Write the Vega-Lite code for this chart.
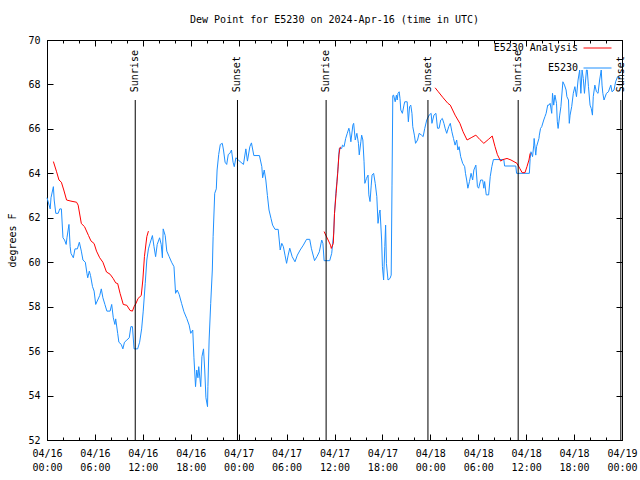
{
  "$schema": "https://vega.github.io/schema/vega-lite/v6.json",
  "width": 575,
  "height": 400,
  "autosize": "none",
  "padding": {"left": 47, "top": 40, "right": 18, "bottom": 40},
  "background": "white",
  "title": {"text": "Dew Point for E5230 on 2024-Apr-16 (time in UTC)", "font": "DejaVu Sans Mono", "fontSize": 10, "fontWeight": "normal", "anchor": "middle", "offset": 9, "color": "black"},
  "config": {
    "view": {"stroke": "black", "strokeWidth": 1},
    "font": "DejaVu Sans Mono",
    "axis": {"domainColor": "black", "tickColor": "black", "labelColor": "black", "titleColor": "black", "labelFont": "DejaVu Sans Mono", "labelFontSize": 10, "titleFont": "DejaVu Sans Mono", "titleFontSize": 10, "titleFontWeight": "normal", "grid": false}
  },
  "datasets": {
    "obs": [
      {"series":"E5230","h":0.0,"v":62.9},{"series":"E5230","h":0.4,"v":62.4},{"series":"E5230","h":0.5,"v":62.9},{"series":"E5230","h":0.8,"v":63.4},{"series":"E5230","h":0.9,"v":62.8},{"series":"E5230","h":1.1,"v":62.2},{"series":"E5230","h":1.4,"v":62.2},{"series":"E5230","h":1.6,"v":62.4},{"series":"E5230","h":1.8,"v":62.4},{"series":"E5230","h":2.0,"v":61.1},{"series":"E5230","h":2.2,"v":61.0},{"series":"E5230","h":2.4,"v":60.8},{"series":"E5230","h":2.5,"v":61.1},{"series":"E5230","h":2.75,"v":61.7},{"series":"E5230","h":2.9,"v":60.7},{"series":"E5230","h":3.0,"v":60.4},{"series":"E5230","h":3.3,"v":60.2},{"series":"E5230","h":3.5,"v":60.6},{"series":"E5230","h":3.8,"v":60.6},{"series":"E5230","h":4.05,"v":60.9},{"series":"E5230","h":4.3,"v":60.5},{"series":"E5230","h":4.5,"v":60.1},{"series":"E5230","h":4.8,"v":60.0},{"series":"E5230","h":5.0,"v":59.5},{"series":"E5230","h":5.1,"v":59.3},{"series":"E5230","h":5.3,"v":59.6},{"series":"E5230","h":5.45,"v":59.4},{"series":"E5230","h":5.7,"v":58.9},{"series":"E5230","h":5.9,"v":58.7},{"series":"E5230","h":6.1,"v":58.1},{"series":"E5230","h":6.35,"v":58.3},{"series":"E5230","h":6.6,"v":58.5},{"series":"E5230","h":6.8,"v":58.8},{"series":"E5230","h":7.0,"v":58.4},{"series":"E5230","h":7.25,"v":58.1},{"series":"E5230","h":7.5,"v":57.8},{"series":"E5230","h":7.9,"v":57.8},{"series":"E5230","h":8.1,"v":58.1},{"series":"E5230","h":8.3,"v":57.5},{"series":"E5230","h":8.5,"v":57.2},{"series":"E5230","h":8.6,"v":57.45},{"series":"E5230","h":8.85,"v":56.8},{"series":"E5230","h":9.0,"v":56.4},{"series":"E5230","h":9.3,"v":56.3},{"series":"E5230","h":9.5,"v":56.1},{"series":"E5230","h":9.7,"v":56.4},{"series":"E5230","h":10.0,"v":56.5},{"series":"E5230","h":10.3,"v":56.6},{"series":"E5230","h":10.5,"v":57.1},{"series":"E5230","h":10.7,"v":57.1},{"series":"E5230","h":10.9,"v":56.1},{"series":"E5230","h":11.35,"v":56.1},{"series":"E5230","h":11.6,"v":56.4},{"series":"E5230","h":11.85,"v":57.0},{"series":"E5230","h":12.05,"v":57.8},{"series":"E5230","h":12.3,"v":59.05},{"series":"E5230","h":12.5,"v":60.1},{"series":"E5230","h":12.7,"v":60.6},{"series":"E5230","h":12.9,"v":60.85},{"series":"E5230","h":13.2,"v":61.2},{"series":"E5230","h":13.4,"v":60.7},{"series":"E5230","h":13.6,"v":60.25},{"series":"E5230","h":13.8,"v":60.8},{"series":"E5230","h":14.1,"v":61.1},{"series":"E5230","h":14.3,"v":60.8},{"series":"E5230","h":14.45,"v":60.2},{"series":"E5230","h":14.55,"v":61.5},{"series":"E5230","h":14.8,"v":61.2},{"series":"E5230","h":15.0,"v":60.5},{"series":"E5230","h":15.3,"v":60.25},{"series":"E5230","h":15.6,"v":60.0},{"series":"E5230","h":15.9,"v":59.8},{"series":"E5230","h":16.1,"v":58.6},{"series":"E5230","h":16.3,"v":58.75},{"series":"E5230","h":16.55,"v":58.55},{"series":"E5230","h":16.85,"v":58.15},{"series":"E5230","h":17.15,"v":57.77},{"series":"E5230","h":17.5,"v":57.47},{"series":"E5230","h":17.8,"v":57.17},{"series":"E5230","h":18.0,"v":56.8},{"series":"E5230","h":18.25,"v":56.95},{"series":"E5230","h":18.4,"v":55.7},{"series":"E5230","h":18.6,"v":54.4},{"series":"E5230","h":18.75,"v":55.15},{"series":"E5230","h":18.9,"v":54.8},{"series":"E5230","h":19.0,"v":55.3},{"series":"E5230","h":19.25,"v":54.4},{"series":"E5230","h":19.4,"v":55.75},{"series":"E5230","h":19.6,"v":56.1},{"series":"E5230","h":19.75,"v":55.15},{"series":"E5230","h":19.9,"v":53.9},{"series":"E5230","h":20.1,"v":53.5},{"series":"E5230","h":20.15,"v":54.4},{"series":"E5230","h":20.3,"v":56.5},{"series":"E5230","h":20.5,"v":58.15},{"series":"E5230","h":20.7,"v":59.65},{"series":"E5230","h":20.8,"v":61.15},{"series":"E5230","h":21.0,"v":63.1},{"series":"E5230","h":21.2,"v":63.3},{"series":"E5230","h":21.3,"v":64.15},{"series":"E5230","h":21.5,"v":64.85},{"series":"E5230","h":21.7,"v":65.3},{"series":"E5230","h":21.95,"v":65.35},{"series":"E5230","h":22.1,"v":65.05},{"series":"E5230","h":22.3,"v":64.5},{"series":"E5230","h":22.5,"v":64.4},{"series":"E5230","h":22.7,"v":64.85},{"series":"E5230","h":22.9,"v":64.9},{"series":"E5230","h":23.1,"v":65.05},{"series":"E5230","h":23.3,"v":64.5},{"series":"E5230","h":23.45,"v":64.3},{"series":"E5230","h":23.65,"v":64.7},{"series":"E5230","h":23.95,"v":64.6},{"series":"E5230","h":24.6,"v":64.4},{"series":"E5230","h":24.9,"v":65.1},{"series":"E5230","h":25.1,"v":64.55},{"series":"E5230","h":25.4,"v":65.2},{"series":"E5230","h":25.6,"v":65.37},{"series":"E5230","h":25.9,"v":64.8},{"series":"E5230","h":26.6,"v":64.8},{"series":"E5230","h":26.9,"v":64.3},{"series":"E5230","h":27.0,"v":63.8},{"series":"E5230","h":27.2,"v":64.15},{"series":"E5230","h":27.4,"v":63.7},{"series":"E5230","h":27.6,"v":63.0},{"series":"E5230","h":27.8,"v":62.35},{"series":"E5230","h":28.05,"v":61.97},{"series":"E5230","h":28.25,"v":61.67},{"series":"E5230","h":28.55,"v":61.48},{"series":"E5230","h":28.95,"v":61.48},{"series":"E5230","h":29.2,"v":60.55},{"series":"E5230","h":29.4,"v":60.85},{"series":"E5230","h":29.6,"v":60.7},{"series":"E5230","h":29.8,"v":60.32},{"series":"E5230","h":30.0,"v":59.95},{"series":"E5230","h":30.2,"v":60.32},{"series":"E5230","h":30.4,"v":60.63},{"series":"E5230","h":30.7,"v":60.25},{"series":"E5230","h":31.05,"v":60.02},{"series":"E5230","h":31.35,"v":60.32},{"series":"E5230","h":31.7,"v":60.55},{"series":"E5230","h":32.1,"v":60.77},{"series":"E5230","h":32.5,"v":61.03},{"series":"E5230","h":32.9,"v":61.03},{"series":"E5230","h":33.1,"v":60.63},{"series":"E5230","h":33.5,"v":60.07},{"series":"E5230","h":33.8,"v":60.25},{"series":"E5230","h":34.1,"v":60.47},{"series":"E5230","h":34.4,"v":61.0},{"series":"E5230","h":34.55,"v":60.85},{"series":"E5230","h":34.7,"v":60.07},{"series":"E5230","h":35.4,"v":60.07},{"series":"E5230","h":35.65,"v":60.4},{"series":"E5230","h":35.9,"v":61.3},{"series":"E5230","h":36.0,"v":62.2},{"series":"E5230","h":36.2,"v":63.25},{"series":"E5230","h":36.3,"v":63.62},{"series":"E5230","h":36.45,"v":64.3},{"series":"E5230","h":36.6,"v":65.12},{"series":"E5230","h":36.9,"v":65.12},{"series":"E5230","h":37.0,"v":65.27},{"series":"E5230","h":37.2,"v":65.2},{"series":"E5230","h":37.4,"v":65.57},{"series":"E5230","h":37.6,"v":65.8},{"series":"E5230","h":37.8,"v":66.03},{"series":"E5230","h":37.9,"v":65.87},{"series":"E5230","h":38.05,"v":65.42},{"series":"E5230","h":38.3,"v":66.17},{"series":"E5230","h":38.4,"v":66.25},{"series":"E5230","h":38.6,"v":65.5},{"series":"E5230","h":38.8,"v":65.8},{"series":"E5230","h":39.0,"v":65.35},{"series":"E5230","h":39.1,"v":64.83},{"series":"E5230","h":39.3,"v":65.42},{"series":"E5230","h":39.4,"v":65.72},{"series":"E5230","h":39.55,"v":65.5},{"series":"E5230","h":39.7,"v":64.52},{"series":"E5230","h":39.8,"v":63.55},{"series":"E5230","h":40.0,"v":63.77},{"series":"E5230","h":40.2,"v":63.92},{"series":"E5230","h":40.3,"v":63.03},{"series":"E5230","h":40.45,"v":62.73},{"series":"E5230","h":40.6,"v":63.47},{"series":"E5230","h":40.7,"v":63.92},{"series":"E5230","h":40.9,"v":64.0},{"series":"E5230","h":41.1,"v":63.55},{"series":"E5230","h":41.3,"v":62.95},{"series":"E5230","h":41.45,"v":61.75},{"series":"E5230","h":41.6,"v":62.2},{"series":"E5230","h":41.7,"v":62.35},{"series":"E5230","h":41.9,"v":61.0},{"series":"E5230","h":42.0,"v":59.8},{"series":"E5230","h":42.15,"v":59.2},{"series":"E5230","h":42.3,"v":60.7},{"series":"E5230","h":42.4,"v":61.67},{"series":"E5230","h":42.5,"v":59.95},{"series":"E5230","h":42.7,"v":59.2},{"series":"E5230","h":42.95,"v":59.27},{"series":"E5230","h":43.1,"v":59.42},{"series":"E5230","h":43.2,"v":63.47},{"series":"E5230","h":43.3,"v":67.5},{"series":"E5230","h":43.4,"v":67.52},{"series":"E5230","h":43.6,"v":67.22},{"series":"E5230","h":43.75,"v":67.52},{"series":"E5230","h":43.85,"v":67.3},{"series":"E5230","h":43.95,"v":67.6},{"series":"E5230","h":44.1,"v":67.67},{"series":"E5230","h":44.2,"v":67.37},{"series":"E5230","h":44.3,"v":66.85},{"series":"E5230","h":44.5,"v":66.7},{"series":"E5230","h":44.7,"v":67.07},{"series":"E5230","h":44.8,"v":67.22},{"series":"E5230","h":45.1,"v":67.22},{"series":"E5230","h":45.25,"v":66.32},{"series":"E5230","h":45.4,"v":67.0},{"series":"E5230","h":45.55,"v":67.07},{"series":"E5230","h":45.7,"v":66.7},{"series":"E5230","h":45.8,"v":66.1},{"series":"E5230","h":46.0,"v":65.72},{"series":"E5230","h":46.15,"v":65.35},{"series":"E5230","h":46.4,"v":65.5},{"series":"E5230","h":46.6,"v":65.8},{"series":"E5230","h":46.9,"v":65.72},{"series":"E5230","h":47.1,"v":65.65},{"series":"E5230","h":47.3,"v":66.02},{"series":"E5230","h":47.55,"v":66.4},{"series":"E5230","h":47.85,"v":66.62},{"series":"E5230","h":48.1,"v":66.7},{"series":"E5230","h":48.2,"v":66.25},{"series":"E5230","h":48.45,"v":66.62},{"series":"E5230","h":48.7,"v":66.7},{"series":"E5230","h":48.9,"v":66.03},{"series":"E5230","h":49.1,"v":66.03},{"series":"E5230","h":49.3,"v":66.4},{"series":"E5230","h":49.5,"v":66.47},{"series":"E5230","h":49.7,"v":66.25},{"series":"E5230","h":49.85,"v":66.03},{"series":"E5230","h":50.05,"v":65.8},{"series":"E5230","h":50.3,"v":66.1},{"series":"E5230","h":50.5,"v":66.25},{"series":"E5230","h":50.7,"v":65.87},{"series":"E5230","h":50.9,"v":65.57},{"series":"E5230","h":51.1,"v":65.27},{"series":"E5230","h":51.3,"v":65.5},{"series":"E5230","h":51.45,"v":65.05},{"series":"E5230","h":51.6,"v":65.2},{"series":"E5230","h":51.8,"v":64.75},{"series":"E5230","h":52.05,"v":64.45},{"series":"E5230","h":52.3,"v":64.3},{"series":"E5230","h":52.4,"v":64.0},{"series":"E5230","h":52.55,"v":63.7},{"series":"E5230","h":52.7,"v":63.33},{"series":"E5230","h":52.9,"v":63.63},{"series":"E5230","h":53.1,"v":64.0},{"series":"E5230","h":53.3,"v":63.7},{"series":"E5230","h":53.45,"v":64.15},{"series":"E5230","h":53.7,"v":64.37},{"series":"E5230","h":53.9,"v":63.4},{"series":"E5230","h":54.05,"v":63.33},{"series":"E5230","h":54.3,"v":63.7},{"series":"E5230","h":54.55,"v":63.7},{"series":"E5230","h":54.7,"v":63.33},{"series":"E5230","h":54.8,"v":63.63},{"series":"E5230","h":55.0,"v":63.03},{"series":"E5230","h":55.3,"v":63.03},{"series":"E5230","h":55.5,"v":63.85},{"series":"E5230","h":55.7,"v":64.3},{"series":"E5230","h":55.9,"v":64.62},{"series":"E5230","h":57.2,"v":64.62},{"series":"E5230","h":57.3,"v":64.33},{"series":"E5230","h":58.7,"v":64.33},{"series":"E5230","h":58.8,"v":64.0},{"series":"E5230","h":60.4,"v":64.0},{"series":"E5230","h":60.5,"v":64.67},{"series":"E5230","h":60.6,"v":64.97},{"series":"E5230","h":60.8,"v":64.75},{"series":"E5230","h":60.95,"v":65.27},{"series":"E5230","h":61.0,"v":65.57},{"series":"E5230","h":61.2,"v":64.82},{"series":"E5230","h":61.3,"v":65.2},{"series":"E5230","h":61.6,"v":65.57},{"series":"E5230","h":61.65,"v":65.72},{"series":"E5230","h":61.8,"v":66.02},{"series":"E5230","h":61.95,"v":66.1},{"series":"E5230","h":62.2,"v":66.4},{"series":"E5230","h":62.35,"v":66.55},{"series":"E5230","h":62.5,"v":66.7},{"series":"E5230","h":62.7,"v":67.07},{"series":"E5230","h":62.85,"v":67.07},{"series":"E5230","h":63.0,"v":67.15},{"series":"E5230","h":63.2,"v":66.7},{"series":"E5230","h":63.3,"v":67.6},{"series":"E5230","h":63.45,"v":67.07},{"series":"E5230","h":63.6,"v":67.52},{"series":"E5230","h":63.8,"v":67.15},{"series":"E5230","h":63.9,"v":66.32},{"series":"E5230","h":64.0,"v":66.02},{"series":"E5230","h":64.2,"v":66.62},{"series":"E5230","h":64.35,"v":67.0},{"series":"E5230","h":64.6,"v":68.12},{"series":"E5230","h":64.8,"v":67.97},{"series":"E5230","h":65.0,"v":67.75},{"series":"E5230","h":65.1,"v":67.45},{"series":"E5230","h":65.3,"v":67.3},{"series":"E5230","h":65.4,"v":66.25},{"series":"E5230","h":65.5,"v":66.62},{"series":"E5230","h":65.7,"v":67.0},{"series":"E5230","h":65.9,"v":67.6},{"series":"E5230","h":66.1,"v":67.9},{"series":"E5230","h":66.3,"v":67.45},{"series":"E5230","h":66.5,"v":68.2},{"series":"E5230","h":66.7,"v":68.65},{"series":"E5230","h":66.85,"v":67.6},{"series":"E5230","h":67.0,"v":68.65},{"series":"E5230","h":67.15,"v":68.27},{"series":"E5230","h":67.3,"v":67.6},{"series":"E5230","h":67.55,"v":68.65},{"series":"E5230","h":67.65,"v":68.65},{"series":"E5230","h":67.8,"v":67.9},{"series":"E5230","h":68.0,"v":67.07},{"series":"E5230","h":68.15,"v":66.92},{"series":"E5230","h":68.3,"v":66.62},{"series":"E5230","h":68.4,"v":67.45},{"series":"E5230","h":68.6,"v":67.97},{"series":"E5230","h":68.8,"v":67.67},{"series":"E5230","h":69.0,"v":67.6},{"series":"E5230","h":69.2,"v":68.2},{"series":"E5230","h":69.4,"v":68.65},{"series":"E5230","h":69.5,"v":67.97},{"series":"E5230","h":69.6,"v":67.6},{"series":"E5230","h":69.75,"v":67.3},{"series":"E5230","h":70.05,"v":67.6},{"series":"E5230","h":70.3,"v":67.67},{"series":"E5230","h":70.6,"v":67.97},{"series":"E5230","h":70.75,"v":67.67},{"series":"E5230","h":71.0,"v":67.75},{"series":"E5230","h":71.2,"v":68.12},{"series":"E5230","h":71.45,"v":68.35},{"series":"E5230","h":71.8,"v":68.3},
      {"series":"E5230 Analysis","seg":1,"h":0.8,"v":64.53},{"series":"E5230 Analysis","seg":1,"h":1.2,"v":64.07},{"series":"E5230 Analysis","seg":1,"h":1.5,"v":63.7},{"series":"E5230 Analysis","seg":1,"h":1.8,"v":63.6},{"series":"E5230 Analysis","seg":1,"h":2.1,"v":63.25},{"series":"E5230 Analysis","seg":1,"h":2.45,"v":62.8},{"series":"E5230 Analysis","seg":1,"h":3.0,"v":62.75},{"series":"E5230 Analysis","seg":1,"h":3.7,"v":62.7},{"series":"E5230 Analysis","seg":1,"h":3.9,"v":62.57},{"series":"E5230 Analysis","seg":1,"h":4.3,"v":61.74},{"series":"E5230 Analysis","seg":1,"h":4.7,"v":61.6},{"series":"E5230 Analysis","seg":1,"h":5.2,"v":61.2},{"series":"E5230 Analysis","seg":1,"h":5.5,"v":60.96},{"series":"E5230 Analysis","seg":1,"h":5.9,"v":60.84},{"series":"E5230 Analysis","seg":1,"h":6.2,"v":60.5},{"series":"E5230 Analysis","seg":1,"h":6.6,"v":60.2},{"series":"E5230 Analysis","seg":1,"h":7.0,"v":60.0},{"series":"E5230 Analysis","seg":1,"h":7.45,"v":59.56},{"series":"E5230 Analysis","seg":1,"h":7.9,"v":59.46},{"series":"E5230 Analysis","seg":1,"h":8.3,"v":59.26},{"series":"E5230 Analysis","seg":1,"h":8.6,"v":59.07},{"series":"E5230 Analysis","seg":1,"h":8.85,"v":59.04},{"series":"E5230 Analysis","seg":1,"h":9.15,"v":58.6},{"series":"E5230 Analysis","seg":1,"h":9.55,"v":58.1},{"series":"E5230 Analysis","seg":1,"h":10.0,"v":58.06},{"series":"E5230 Analysis","seg":1,"h":10.4,"v":57.83},{"series":"E5230 Analysis","seg":1,"h":10.7,"v":57.8},{"series":"E5230 Analysis","seg":1,"h":10.9,"v":58.0},{"series":"E5230 Analysis","seg":1,"h":11.15,"v":58.15},{"series":"E5230 Analysis","seg":1,"h":11.4,"v":58.37},{"series":"E5230 Analysis","seg":1,"h":11.8,"v":58.5},{"series":"E5230 Analysis","seg":1,"h":12.0,"v":59.2},{"series":"E5230 Analysis","seg":1,"h":12.2,"v":60.25},{"series":"E5230 Analysis","seg":1,"h":12.5,"v":61.15},{"series":"E5230 Analysis","seg":1,"h":12.7,"v":61.4},
      {"series":"E5230 Analysis","seg":2,"h":34.7,"v":61.38},{"series":"E5230 Analysis","seg":2,"h":34.9,"v":61.22},{"series":"E5230 Analysis","seg":2,"h":35.2,"v":61.0},{"series":"E5230 Analysis","seg":2,"h":35.5,"v":60.77},{"series":"E5230 Analysis","seg":2,"h":35.6,"v":60.62},{"series":"E5230 Analysis","seg":2,"h":35.85,"v":60.85},{"series":"E5230 Analysis","seg":2,"h":36.0,"v":62.2},{"series":"E5230 Analysis","seg":2,"h":36.2,"v":63.1},{"series":"E5230 Analysis","seg":2,"h":36.4,"v":64.0},{"series":"E5230 Analysis","seg":2,"h":36.55,"v":64.83},{"series":"E5230 Analysis","seg":2,"h":36.7,"v":65.17},{"series":"E5230 Analysis","seg":2,"h":36.8,"v":65.17},
      {"series":"E5230 Analysis","seg":3,"h":48.6,"v":67.85},{"series":"E5230 Analysis","seg":3,"h":49.0,"v":67.67},{"series":"E5230 Analysis","seg":3,"h":49.6,"v":67.4},{"series":"E5230 Analysis","seg":3,"h":50.2,"v":67.15},{"series":"E5230 Analysis","seg":3,"h":50.5,"v":67.07},{"series":"E5230 Analysis","seg":3,"h":51.1,"v":66.62},{"series":"E5230 Analysis","seg":3,"h":51.7,"v":66.25},{"series":"E5230 Analysis","seg":3,"h":52.1,"v":65.87},{"series":"E5230 Analysis","seg":3,"h":52.6,"v":65.5},{"series":"E5230 Analysis","seg":3,"h":53.2,"v":65.62},{"series":"E5230 Analysis","seg":3,"h":53.7,"v":65.72},{"series":"E5230 Analysis","seg":3,"h":54.2,"v":65.52},{"series":"E5230 Analysis","seg":3,"h":54.7,"v":65.35},{"series":"E5230 Analysis","seg":3,"h":55.25,"v":65.52},{"series":"E5230 Analysis","seg":3,"h":55.75,"v":65.68},{"series":"E5230 Analysis","seg":3,"h":56.1,"v":65.2},{"series":"E5230 Analysis","seg":3,"h":56.4,"v":64.84},{"series":"E5230 Analysis","seg":3,"h":56.8,"v":64.55},{"series":"E5230 Analysis","seg":3,"h":57.1,"v":64.62},{"series":"E5230 Analysis","seg":3,"h":57.6,"v":64.67},{"series":"E5230 Analysis","seg":3,"h":58.1,"v":64.6},{"series":"E5230 Analysis","seg":3,"h":58.6,"v":64.5},{"series":"E5230 Analysis","seg":3,"h":58.85,"v":64.45},{"series":"E5230 Analysis","seg":3,"h":59.2,"v":64.22},{"series":"E5230 Analysis","seg":3,"h":59.5,"v":64.03},{"series":"E5230 Analysis","seg":3,"h":59.85,"v":64.03},{"series":"E5230 Analysis","seg":3,"h":60.1,"v":64.3},{"series":"E5230 Analysis","seg":3,"h":60.35,"v":64.6},{"series":"E5230 Analysis","seg":3,"h":60.5,"v":64.9}
    ],
    "sun": [
      {"event":"Sunrise","h":11.05},{"event":"Sunset","h":23.85},{"event":"Sunrise","h":34.95},{"event":"Sunset","h":47.7},{"event":"Sunrise","h":59.0},{"event":"Sunset","h":71.85}
    ]
  },
  "layer": [
    {
      "data": {"name": "obs"},
      "mark": {"type": "line", "strokeWidth": 1},
      "encoding": {
        "x": {"field": "h", "type": "quantitative", "scale": {"domain": [0, 72], "nice": false, "zero": false},
          "axis": {"orient": "bottom", "title": null, "values": [0,2,4,6,8,10,12,14,16,18,20,22,24,26,28,30,32,34,36,38,40,42,44,46,48,50,52,54,56,58,60,62,64,66,68,70,72],
            "tickSize": {"condition": {"test": "datum.value % 6 === 0", "value": -6}, "value": -3},
            "labelPadding": 14, "labelBaseline": "top", "labelLineHeight": 14, "labelAlign": "center", "labelFlush": false, "labelOverlap": false,
            "labelExpr": "datum.value % 6 === 0 ? ['04/' + (16 + floor(datum.value / 24)), (datum.value % 24 < 10 ? '0' : '') + (datum.value % 24) + ':00'] : ''"}},
        "y": {"field": "v", "type": "quantitative", "scale": {"domain": [52, 70], "nice": false, "zero": false},
          "axis": {"orient": "left", "title": "degrees F", "values": [52,54,56,58,60,62,64,66,68,70], "tickSize": -6, "labelPadding": 13, "titlePadding": 10, "labelFlush": false}},
        "color": {"field": "series", "type": "nominal", "scale": {"domain": ["E5230 Analysis", "E5230"], "range": ["#ff0000", "#1e90ff"]},
          "legend": {"title": null, "orient": "none", "legendX": 536, "legendY": -6.5, "symbolType": "stroke", "symbolStrokeWidth": 1, "symbolSize": 784, "labelFont": "DejaVu Sans Mono", "labelFontSize": 10, "labelColor": "black", "labelAlign": "right", "labelOffset": -34, "padding": 0, "rowPadding": -7}},
        "detail": {"field": "seg"}
      }
    },
    {
      "data": {"name": "sun"},
      "mark": {"type": "rule", "color": "black", "strokeWidth": 1},
      "encoding": {
        "x": {"field": "h", "type": "quantitative",
          "axis": {"orient": "top", "title": null, "labels": false, "domain": true, "values": [0,2,4,6,8,10,12,14,16,18,20,22,24,26,28,30,32,34,36,38,40,42,44,46,48,50,52,54,56,58,60,62,64,66,68,70,72],
            "tickSize": {"condition": {"test": "datum.value % 6 === 0", "value": -6}, "value": -3}}},
        "y": {"datum": 67.3, "type": "quantitative",
          "axis": {"orient": "right", "title": null, "labels": false, "values": [52,54,56,58,60,62,64,66,68,70], "tickSize": -6}},
        "y2": {"datum": 52}
      }
    },
    {
      "data": {"name": "sun"},
      "mark": {"type": "text", "angle": 270, "align": "left", "baseline": "middle", "fontSize": 10, "font": "DejaVu Sans Mono", "color": "black"},
      "encoding": {
        "x": {"field": "h", "type": "quantitative", "axis": null},
        "y": {"datum": 67.65, "type": "quantitative", "axis": null},
        "text": {"field": "event"}
      }
    }
  ],
  "resolve": {"axis": {"x": "independent", "y": "independent"}}
}
